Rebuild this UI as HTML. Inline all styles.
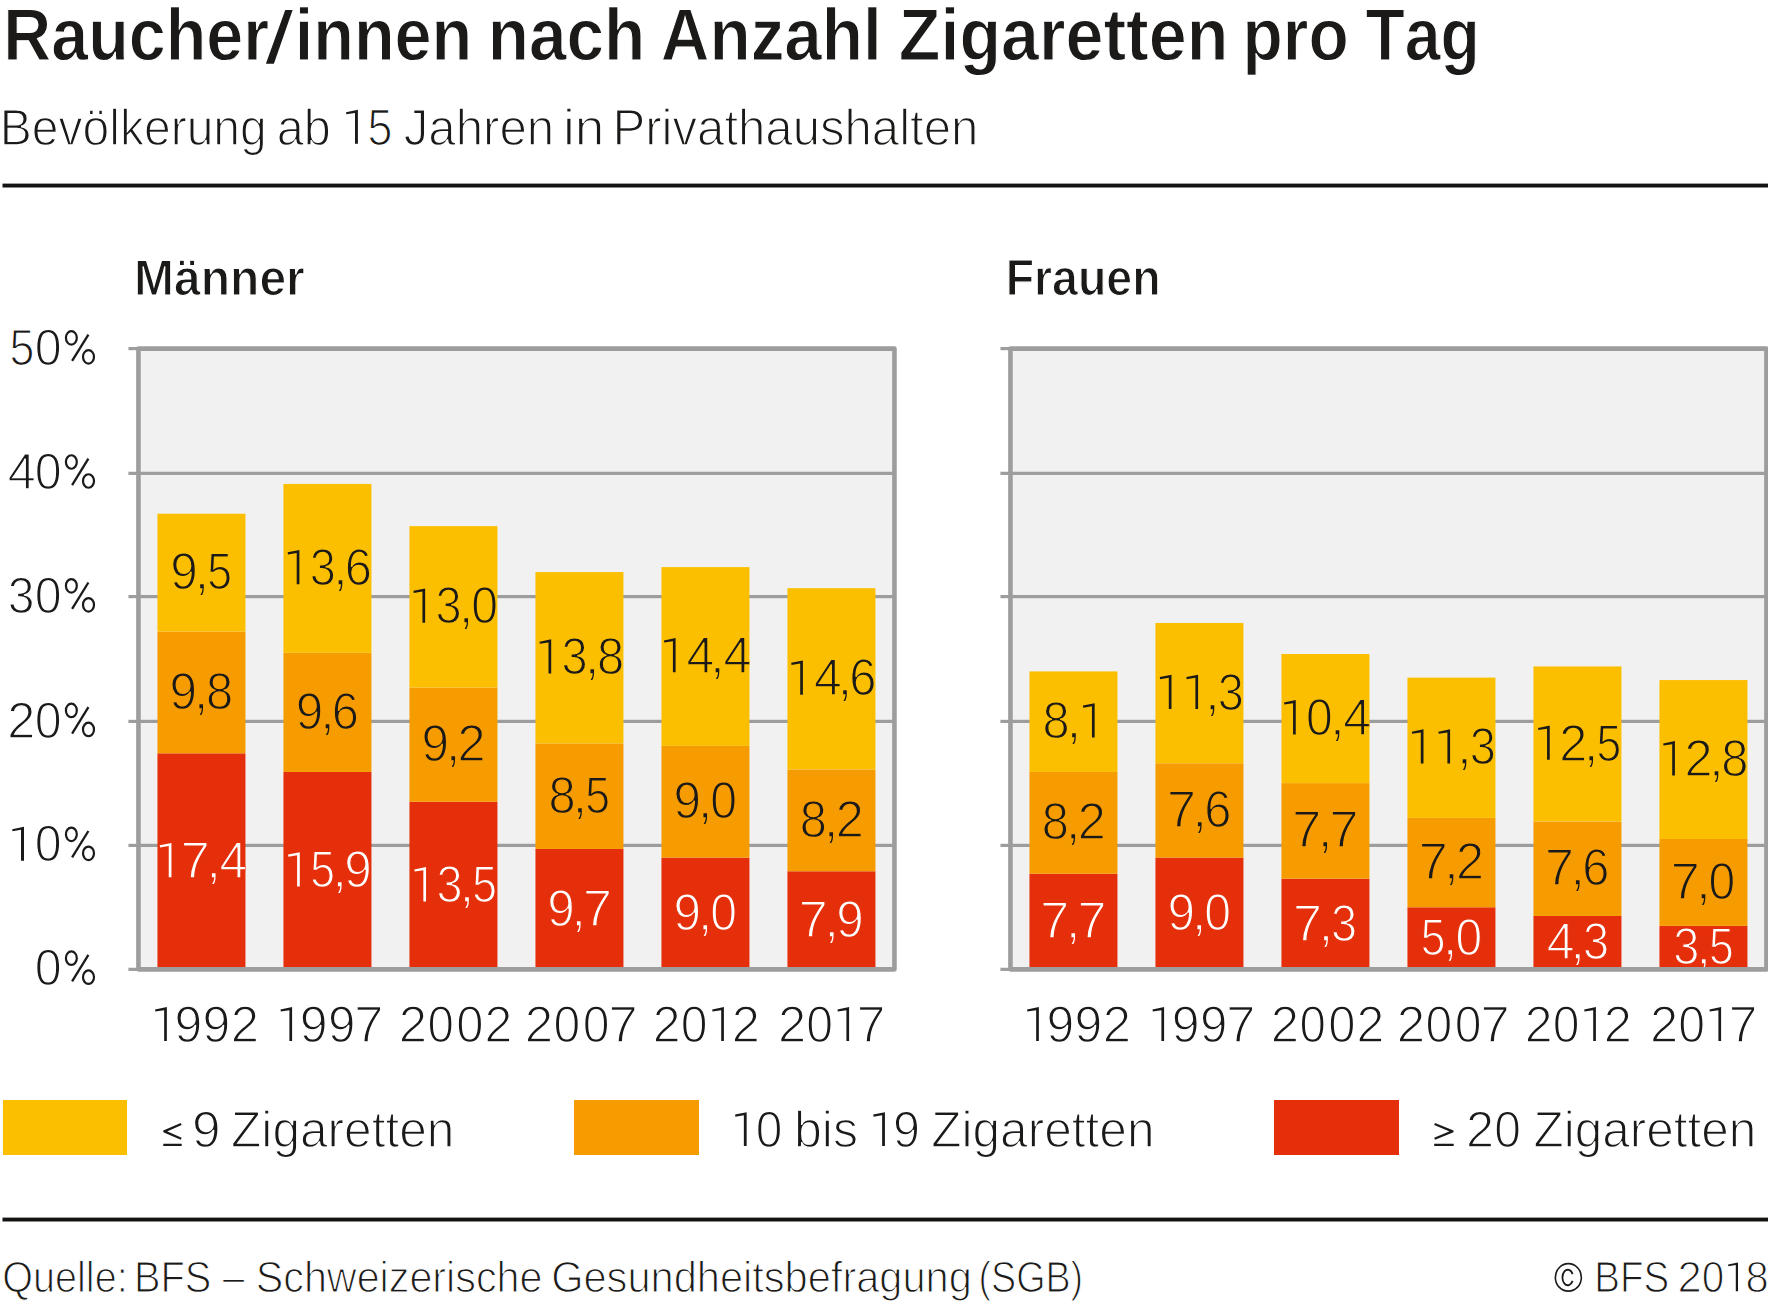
<!DOCTYPE html>
<html><head><meta charset="utf-8"><title>Raucher/innen nach Anzahl Zigaretten pro Tag</title>
<style>
html,body{margin:0;padding:0;background:#fff;}
svg{display:block;}
text{font-family:"Liberation Sans",sans-serif;font-kerning:none;white-space:pre;text-rendering:geometricPrecision;}
</style></head><body>
<svg width="1768" height="1303" viewBox="0 0 1768 1303">
<rect width="1768" height="1303" fill="#fff"/>
<path d="M285.25,10.1 L292.6,10.1 L273.9,63.85 L265.9,63.85 Z" fill="#1b1a18"/>
<text transform="translate(3.32,60.1) scale(0.9010,1)" font-size="73.69" font-weight="bold" fill="#1b1a18" stroke="#fff" stroke-width="1.2">Raucher</text>
<text transform="translate(294.81,60.1) scale(0.9031,1)" font-size="73.69" font-weight="bold" fill="#1b1a18" stroke="#fff" stroke-width="1.2">innen</text>
<text transform="translate(487.81,60.1) scale(0.9147,1)" font-size="73.69" font-weight="bold" fill="#1b1a18" stroke="#fff" stroke-width="1.2">nach</text>
<text transform="translate(660.77,60.1) scale(0.9151,1)" font-size="73.69" font-weight="bold" fill="#1b1a18" stroke="#fff" stroke-width="1.2">Anzahl</text>
<text transform="translate(898.81,60.1) scale(0.9252,1)" font-size="73.69" font-weight="bold" fill="#1b1a18" stroke="#fff" stroke-width="1.2">Zigaretten</text>
<text transform="translate(1242.52,60.1) scale(0.8946,1)" font-size="73.69" font-weight="bold" fill="#1b1a18" stroke="#fff" stroke-width="1.2">pro</text>
<text transform="translate(1365.45,60.1) scale(0.8730,1)" font-size="73.69" font-weight="bold" fill="#1b1a18" stroke="#fff" stroke-width="1.2">Tag</text>
<text transform="translate(-0.2,144.5) scale(0.9413,1)" font-size="51.02" font-weight="normal" fill="#1b1a18" stroke="#fff" stroke-width="1.4">Bevölkerung</text>
<text transform="translate(276.67,144.5) scale(0.9522,1)" font-size="51.02" font-weight="normal" fill="#1b1a18" stroke="#fff" stroke-width="1.4">ab</text>
<text transform="translate(403.66,144.5) scale(0.9649,1)" font-size="51.02" font-weight="normal" fill="#1b1a18" stroke="#fff" stroke-width="1.4">Jahren</text>
<text transform="translate(563.02,144.5) scale(1.0417,1)" font-size="51.02" font-weight="normal" fill="#1b1a18" stroke="#fff" stroke-width="1.4">in</text>
<text transform="translate(612.5,144.5) scale(0.9627,1)" font-size="51.02" font-weight="normal" fill="#1b1a18" stroke="#fff" stroke-width="1.4">Privathaushalten</text>
<path d="M357.9,109.86 L357.9,143.86 L355,143.86 L355,112.93 L346.34,114.32 L346.04,112.24 Z" fill="#1b1a18"/>
<text transform="translate(367.5,144.56) scale(0.8697,1)" font-size="51.45" font-weight="normal" fill="#1b1a18" stroke="#fff" stroke-width="1.4">5</text>
<rect x="2.5" y="183.6" width="1768" height="3.9" fill="#151412"/>
<rect x="138.45" y="348.6" width="756" height="620.75" fill="#f1f1f1"/>
<rect x="128.45" y="967.75" width="766" height="3.2" fill="#9d9d9d"/>
<rect x="128.45" y="843.8" width="766" height="3.2" fill="#9d9d9d"/>
<rect x="128.45" y="719.8" width="766" height="3.2" fill="#9d9d9d"/>
<rect x="128.45" y="595" width="766" height="3.2" fill="#9d9d9d"/>
<rect x="128.45" y="471.75" width="766" height="3.2" fill="#9d9d9d"/>
<rect x="128.45" y="347" width="766" height="3.2" fill="#9d9d9d"/>
<rect x="157.45" y="753.33" width="88" height="216.02" fill="#e52f0b"/>
<rect x="157.45" y="631.66" width="88" height="121.67" fill="#f69c00"/>
<rect x="157.45" y="513.72" width="88" height="117.94" fill="#fcbf00"/>
<rect x="283.45" y="771.95" width="88" height="197.4" fill="#e52f0b"/>
<rect x="283.45" y="652.77" width="88" height="119.18" fill="#f69c00"/>
<rect x="283.45" y="483.92" width="88" height="168.84" fill="#fcbf00"/>
<rect x="409.45" y="801.75" width="88" height="167.6" fill="#e52f0b"/>
<rect x="409.45" y="687.53" width="88" height="114.22" fill="#f69c00"/>
<rect x="409.45" y="526.13" width="88" height="161.4" fill="#fcbf00"/>
<rect x="535.45" y="848.92" width="88" height="120.43" fill="#e52f0b"/>
<rect x="535.45" y="743.4" width="88" height="105.53" fill="#f69c00"/>
<rect x="535.45" y="572.07" width="88" height="171.33" fill="#fcbf00"/>
<rect x="661.45" y="857.62" width="88" height="111.74" fill="#e52f0b"/>
<rect x="661.45" y="745.88" width="88" height="111.73" fill="#f69c00"/>
<rect x="661.45" y="567.1" width="88" height="178.78" fill="#fcbf00"/>
<rect x="787.45" y="871.27" width="88" height="98.08" fill="#e52f0b"/>
<rect x="787.45" y="769.47" width="88" height="101.8" fill="#f69c00"/>
<rect x="787.45" y="588.21" width="88" height="181.26" fill="#fcbf00"/>
<path d="M138.45,969.35 V348.6 H894.45 V969.35 Z" fill="none" stroke="#9d9d9d" stroke-width="4.6" stroke-linejoin="round"/>
<clipPath id="cM0"><rect x="157.45" y="300" width="88" height="667.05"/></clipPath><g clip-path="url(#cM0)">
<path d="M171.45,842.89 L171.45,877.19 L168.75,877.19 L168.75,845.99 L160.05,847.39 L159.75,845.29 Z" fill="#ffffff"/>
<text transform="translate(180.87,877.89) scale(1.0050,1)" font-size="51.89" font-weight="normal" fill="#ffffff" stroke="#e52f0b" stroke-width="1.4">7</text>
<text transform="translate(206.23,877.89) scale(1.0291,1)" font-size="51.89" font-weight="normal" fill="#ffffff" stroke="#e52f0b" stroke-width="1.4">,</text>
<text transform="translate(219.53,877.89) scale(0.9617,1)" font-size="51.89" font-weight="normal" fill="#ffffff" stroke="#e52f0b" stroke-width="1.4">4</text>
<text transform="translate(169.52,709.05) scale(0.9527,1)" font-size="51.89" font-weight="normal" fill="#1b1a18" stroke="#f69c00" stroke-width="1.4">9</text>
<text transform="translate(193.68,709.05) scale(1.0291,1)" font-size="51.89" font-weight="normal" fill="#1b1a18" stroke="#f69c00" stroke-width="1.4">,</text>
<text transform="translate(206.02,709.05) scale(0.9412,1)" font-size="51.89" font-weight="normal" fill="#1b1a18" stroke="#f69c00" stroke-width="1.4">8</text>
<text transform="translate(170.37,589.24) scale(0.9527,1)" font-size="51.89" font-weight="normal" fill="#1b1a18" stroke="#fcbf00" stroke-width="1.4">9</text>
<text transform="translate(194.53,589.24) scale(1.0291,1)" font-size="51.89" font-weight="normal" fill="#1b1a18" stroke="#fcbf00" stroke-width="1.4">,</text>
<text transform="translate(207.27,589.24) scale(0.8577,1)" font-size="51.89" font-weight="normal" fill="#1b1a18" stroke="#fcbf00" stroke-width="1.4">5</text>
</g>
<clipPath id="cM1"><rect x="283.45" y="300" width="88" height="667.05"/></clipPath><g clip-path="url(#cM1)">
<path d="M299.8,852.2 L299.8,886.5 L297.1,886.5 L297.1,855.3 L288.4,856.7 L288.1,854.6 Z" fill="#ffffff"/>
<text transform="translate(310.22,887.2) scale(0.8577,1)" font-size="51.89" font-weight="normal" fill="#ffffff" stroke="#e52f0b" stroke-width="1.4">5</text>
<text transform="translate(332.18,887.2) scale(1.0291,1)" font-size="51.89" font-weight="normal" fill="#ffffff" stroke="#e52f0b" stroke-width="1.4">,</text>
<text transform="translate(344.32,887.2) scale(0.9527,1)" font-size="51.89" font-weight="normal" fill="#ffffff" stroke="#e52f0b" stroke-width="1.4">9</text>
<text transform="translate(295.72,728.91) scale(0.9527,1)" font-size="51.89" font-weight="normal" fill="#1b1a18" stroke="#f69c00" stroke-width="1.4">9</text>
<text transform="translate(319.88,728.91) scale(1.0291,1)" font-size="51.89" font-weight="normal" fill="#1b1a18" stroke="#f69c00" stroke-width="1.4">,</text>
<text transform="translate(331.86,728.91) scale(0.9404,1)" font-size="51.89" font-weight="normal" fill="#1b1a18" stroke="#f69c00" stroke-width="1.4">6</text>
<path d="M299.4,549.9 L299.4,584.2 L296.7,584.2 L296.7,553 L288,554.4 L287.7,552.3 Z" fill="#1b1a18"/>
<text transform="translate(309.78,584.9) scale(0.9051,1)" font-size="51.89" font-weight="normal" fill="#1b1a18" stroke="#fcbf00" stroke-width="1.4">3</text>
<text transform="translate(332.88,584.9) scale(1.0291,1)" font-size="51.89" font-weight="normal" fill="#1b1a18" stroke="#fcbf00" stroke-width="1.4">,</text>
<text transform="translate(344.86,584.9) scale(0.9404,1)" font-size="51.89" font-weight="normal" fill="#1b1a18" stroke="#fcbf00" stroke-width="1.4">6</text>
</g>
<clipPath id="cM2"><rect x="409.45" y="300" width="88" height="667.05"/></clipPath><g clip-path="url(#cM2)">
<path d="M426.05,867.1 L426.05,901.4 L423.35,901.4 L423.35,870.2 L414.65,871.6 L414.35,869.5 Z" fill="#ffffff"/>
<text transform="translate(436.43,902.1) scale(0.9051,1)" font-size="51.89" font-weight="normal" fill="#ffffff" stroke="#e52f0b" stroke-width="1.4">3</text>
<text transform="translate(459.53,902.1) scale(1.0291,1)" font-size="51.89" font-weight="normal" fill="#ffffff" stroke="#e52f0b" stroke-width="1.4">,</text>
<text transform="translate(472.27,902.1) scale(0.8577,1)" font-size="51.89" font-weight="normal" fill="#ffffff" stroke="#e52f0b" stroke-width="1.4">5</text>
<text transform="translate(421.52,761.19) scale(0.9527,1)" font-size="51.89" font-weight="normal" fill="#1b1a18" stroke="#f69c00" stroke-width="1.4">9</text>
<text transform="translate(445.68,761.19) scale(1.0291,1)" font-size="51.89" font-weight="normal" fill="#1b1a18" stroke="#f69c00" stroke-width="1.4">,</text>
<text transform="translate(457.59,761.19) scale(0.9713,1)" font-size="51.89" font-weight="normal" fill="#1b1a18" stroke="#f69c00" stroke-width="1.4">2</text>
<path d="M425.15,588.38 L425.15,622.68 L422.45,622.68 L422.45,591.48 L413.75,592.88 L413.45,590.78 Z" fill="#1b1a18"/>
<text transform="translate(435.53,623.38) scale(0.9051,1)" font-size="51.89" font-weight="normal" fill="#1b1a18" stroke="#fcbf00" stroke-width="1.4">3</text>
<text transform="translate(458.63,623.38) scale(1.0291,1)" font-size="51.89" font-weight="normal" fill="#1b1a18" stroke="#fcbf00" stroke-width="1.4">,</text>
<text transform="translate(471.22,623.38) scale(0.9272,1)" font-size="51.89" font-weight="normal" fill="#1b1a18" stroke="#fcbf00" stroke-width="1.4">0</text>
</g>
<clipPath id="cM3"><rect x="535.45" y="300" width="88" height="667.05"/></clipPath><g clip-path="url(#cM3)">
<text transform="translate(547.17,925.69) scale(0.9527,1)" font-size="51.89" font-weight="normal" fill="#ffffff" stroke="#e52f0b" stroke-width="1.4">9</text>
<text transform="translate(571.33,925.69) scale(1.0291,1)" font-size="51.89" font-weight="normal" fill="#ffffff" stroke="#e52f0b" stroke-width="1.4">,</text>
<text transform="translate(583.07,925.69) scale(1.0050,1)" font-size="51.89" font-weight="normal" fill="#ffffff" stroke="#e52f0b" stroke-width="1.4">7</text>
<text transform="translate(548.52,812.71) scale(0.9412,1)" font-size="51.89" font-weight="normal" fill="#1b1a18" stroke="#f69c00" stroke-width="1.4">8</text>
<text transform="translate(572.58,812.71) scale(1.0291,1)" font-size="51.89" font-weight="normal" fill="#1b1a18" stroke="#f69c00" stroke-width="1.4">,</text>
<text transform="translate(585.32,812.71) scale(0.8577,1)" font-size="51.89" font-weight="normal" fill="#1b1a18" stroke="#f69c00" stroke-width="1.4">5</text>
<path d="M551.2,639.28 L551.2,673.58 L548.5,673.58 L548.5,642.38 L539.8,643.78 L539.5,641.68 Z" fill="#1b1a18"/>
<text transform="translate(561.58,674.28) scale(0.9051,1)" font-size="51.89" font-weight="normal" fill="#1b1a18" stroke="#fcbf00" stroke-width="1.4">3</text>
<text transform="translate(584.68,674.28) scale(1.0291,1)" font-size="51.89" font-weight="normal" fill="#1b1a18" stroke="#fcbf00" stroke-width="1.4">,</text>
<text transform="translate(597.02,674.28) scale(0.9412,1)" font-size="51.89" font-weight="normal" fill="#1b1a18" stroke="#fcbf00" stroke-width="1.4">8</text>
</g>
<clipPath id="cM4"><rect x="661.45" y="300" width="88" height="667.05"/></clipPath><g clip-path="url(#cM4)">
<text transform="translate(673.47,930.03) scale(0.9527,1)" font-size="51.89" font-weight="normal" fill="#ffffff" stroke="#e52f0b" stroke-width="1.4">9</text>
<text transform="translate(697.63,930.03) scale(1.0291,1)" font-size="51.89" font-weight="normal" fill="#ffffff" stroke="#e52f0b" stroke-width="1.4">,</text>
<text transform="translate(710.22,930.03) scale(0.9272,1)" font-size="51.89" font-weight="normal" fill="#ffffff" stroke="#e52f0b" stroke-width="1.4">0</text>
<text transform="translate(673.47,818.3) scale(0.9527,1)" font-size="51.89" font-weight="normal" fill="#1b1a18" stroke="#f69c00" stroke-width="1.4">9</text>
<text transform="translate(697.63,818.3) scale(1.0291,1)" font-size="51.89" font-weight="normal" fill="#1b1a18" stroke="#f69c00" stroke-width="1.4">,</text>
<text transform="translate(710.22,818.3) scale(0.9272,1)" font-size="51.89" font-weight="normal" fill="#1b1a18" stroke="#f69c00" stroke-width="1.4">0</text>
<path d="M675.6,638.04 L675.6,672.34 L672.9,672.34 L672.9,641.14 L664.2,642.54 L663.9,640.44 Z" fill="#1b1a18"/>
<text transform="translate(686.58,673.04) scale(0.9617,1)" font-size="51.89" font-weight="normal" fill="#1b1a18" stroke="#fcbf00" stroke-width="1.4">4</text>
<text transform="translate(710.08,673.04) scale(1.0291,1)" font-size="51.89" font-weight="normal" fill="#1b1a18" stroke="#fcbf00" stroke-width="1.4">,</text>
<text transform="translate(723.38,673.04) scale(0.9617,1)" font-size="51.89" font-weight="normal" fill="#1b1a18" stroke="#fcbf00" stroke-width="1.4">4</text>
</g>
<clipPath id="cM5"><rect x="787.45" y="300" width="88" height="667.05"/></clipPath><g clip-path="url(#cM5)">
<text transform="translate(798.77,936.86) scale(1.0050,1)" font-size="51.89" font-weight="normal" fill="#ffffff" stroke="#e52f0b" stroke-width="1.4">7</text>
<text transform="translate(824.13,936.86) scale(1.0291,1)" font-size="51.89" font-weight="normal" fill="#ffffff" stroke="#e52f0b" stroke-width="1.4">,</text>
<text transform="translate(836.27,936.86) scale(0.9527,1)" font-size="51.89" font-weight="normal" fill="#ffffff" stroke="#e52f0b" stroke-width="1.4">9</text>
<text transform="translate(799.67,836.92) scale(0.9412,1)" font-size="51.89" font-weight="normal" fill="#1b1a18" stroke="#f69c00" stroke-width="1.4">8</text>
<text transform="translate(823.73,836.92) scale(1.0291,1)" font-size="51.89" font-weight="normal" fill="#1b1a18" stroke="#f69c00" stroke-width="1.4">,</text>
<text transform="translate(835.64,836.92) scale(0.9713,1)" font-size="51.89" font-weight="normal" fill="#1b1a18" stroke="#f69c00" stroke-width="1.4">2</text>
<path d="M802.9,660.39 L802.9,694.69 L800.2,694.69 L800.2,663.49 L791.5,664.89 L791.2,662.79 Z" fill="#1b1a18"/>
<text transform="translate(813.88,695.39) scale(0.9617,1)" font-size="51.89" font-weight="normal" fill="#1b1a18" stroke="#fcbf00" stroke-width="1.4">4</text>
<text transform="translate(837.38,695.39) scale(1.0291,1)" font-size="51.89" font-weight="normal" fill="#1b1a18" stroke="#fcbf00" stroke-width="1.4">,</text>
<text transform="translate(849.36,695.39) scale(0.9404,1)" font-size="51.89" font-weight="normal" fill="#1b1a18" stroke="#fcbf00" stroke-width="1.4">6</text>
</g>
<path d="M166.86,1007.1 L166.86,1041.1 L164.16,1041.1 L164.16,1010.17 L155.35,1011.56 L155.05,1009.48 Z" fill="#1b1a18"/>
<text transform="translate(174.58,1041.8) scale(0.9702,1)" font-size="51.45" font-weight="normal" fill="#1b1a18" stroke="#fff" stroke-width="1.4">9</text>
<text transform="translate(202.38,1041.8) scale(0.9702,1)" font-size="51.45" font-weight="normal" fill="#1b1a18" stroke="#fff" stroke-width="1.4">9</text>
<text transform="translate(230.65,1041.8) scale(0.9891,1)" font-size="51.45" font-weight="normal" fill="#1b1a18" stroke="#fff" stroke-width="1.4">2</text>
<path d="M292.1,1007.1 L292.1,1041.1 L289.4,1041.1 L289.4,1010.17 L280.8,1011.56 L280.5,1009.48 Z" fill="#1b1a18"/>
<text transform="translate(299.87,1041.8) scale(0.9724,1)" font-size="51.45" font-weight="normal" fill="#1b1a18" stroke="#fff" stroke-width="1.4">9</text>
<text transform="translate(328.12,1041.8) scale(0.9568,1)" font-size="51.45" font-weight="normal" fill="#1b1a18" stroke="#fff" stroke-width="1.4">9</text>
<text transform="translate(354.2,1041.8) scale(1.0186,1)" font-size="51.45" font-weight="normal" fill="#1b1a18" stroke="#fff" stroke-width="1.4">7</text>
<text transform="translate(398.85,1041.8) scale(0.9891,1)" font-size="51.45" font-weight="normal" fill="#1b1a18" stroke="#fff" stroke-width="1.4">2</text>
<text transform="translate(427.5,1041.8) scale(0.9226,1)" font-size="51.45" font-weight="normal" fill="#1b1a18" stroke="#fff" stroke-width="1.4">0</text>
<text transform="translate(456.22,1041.8) scale(0.9527,1)" font-size="51.45" font-weight="normal" fill="#1b1a18" stroke="#fff" stroke-width="1.4">0</text>
<text transform="translate(484.51,1041.8) scale(0.9709,1)" font-size="51.45" font-weight="normal" fill="#1b1a18" stroke="#fff" stroke-width="1.4">2</text>
<text transform="translate(524.73,1041.8) scale(0.9936,1)" font-size="51.45" font-weight="normal" fill="#1b1a18" stroke="#fff" stroke-width="1.4">2</text>
<text transform="translate(553.46,1041.8) scale(0.9355,1)" font-size="51.45" font-weight="normal" fill="#1b1a18" stroke="#fff" stroke-width="1.4">0</text>
<text transform="translate(582.66,1041.8) scale(0.9355,1)" font-size="51.45" font-weight="normal" fill="#1b1a18" stroke="#fff" stroke-width="1.4">0</text>
<text transform="translate(608.6,1041.8) scale(1.0186,1)" font-size="51.45" font-weight="normal" fill="#1b1a18" stroke="#fff" stroke-width="1.4">7</text>
<text transform="translate(652.71,1041.8) scale(0.9709,1)" font-size="51.45" font-weight="normal" fill="#1b1a18" stroke="#fff" stroke-width="1.4">2</text>
<text transform="translate(680.86,1041.8) scale(0.9355,1)" font-size="51.45" font-weight="normal" fill="#1b1a18" stroke="#fff" stroke-width="1.4">0</text>
<path d="M723.9,1007.1 L723.9,1041.1 L721.2,1041.1 L721.2,1010.17 L712.5,1011.56 L712.2,1009.48 Z" fill="#1b1a18"/>
<text transform="translate(731.76,1041.8) scale(0.9846,1)" font-size="51.45" font-weight="normal" fill="#1b1a18" stroke="#fff" stroke-width="1.4">2</text>
<text transform="translate(777.96,1041.8) scale(0.9846,1)" font-size="51.45" font-weight="normal" fill="#1b1a18" stroke="#fff" stroke-width="1.4">2</text>
<text transform="translate(806.16,1041.8) scale(0.9355,1)" font-size="51.45" font-weight="normal" fill="#1b1a18" stroke="#fff" stroke-width="1.4">0</text>
<path d="M849.1,1007.1 L849.1,1041.1 L846.4,1041.1 L846.4,1010.17 L837.8,1011.56 L837.5,1009.48 Z" fill="#1b1a18"/>
<text transform="translate(856.66,1041.8) scale(1.0004,1)" font-size="51.45" font-weight="normal" fill="#1b1a18" stroke="#fff" stroke-width="1.4">7</text>
<rect x="1010.45" y="348.6" width="756" height="620.75" fill="#f1f1f1"/>
<rect x="1000.45" y="967.75" width="766" height="3.2" fill="#9d9d9d"/>
<rect x="1000.45" y="843.8" width="766" height="3.2" fill="#9d9d9d"/>
<rect x="1000.45" y="719.8" width="766" height="3.2" fill="#9d9d9d"/>
<rect x="1000.45" y="595" width="766" height="3.2" fill="#9d9d9d"/>
<rect x="1000.45" y="471.75" width="766" height="3.2" fill="#9d9d9d"/>
<rect x="1000.45" y="347" width="766" height="3.2" fill="#9d9d9d"/>
<rect x="1029.45" y="873.75" width="88" height="95.6" fill="#e52f0b"/>
<rect x="1029.45" y="771.95" width="88" height="101.8" fill="#f69c00"/>
<rect x="1029.45" y="671.39" width="88" height="100.56" fill="#fcbf00"/>
<rect x="1155.45" y="857.62" width="88" height="111.74" fill="#e52f0b"/>
<rect x="1155.45" y="763.26" width="88" height="94.35" fill="#f69c00"/>
<rect x="1155.45" y="622.97" width="88" height="140.29" fill="#fcbf00"/>
<rect x="1281.45" y="878.72" width="88" height="90.63" fill="#e52f0b"/>
<rect x="1281.45" y="783.12" width="88" height="95.6" fill="#f69c00"/>
<rect x="1281.45" y="654.01" width="88" height="129.12" fill="#fcbf00"/>
<rect x="1407.45" y="907.27" width="88" height="62.08" fill="#e52f0b"/>
<rect x="1407.45" y="817.89" width="88" height="89.39" fill="#f69c00"/>
<rect x="1407.45" y="677.6" width="88" height="140.29" fill="#fcbf00"/>
<rect x="1533.45" y="915.97" width="88" height="53.38" fill="#e52f0b"/>
<rect x="1533.45" y="821.61" width="88" height="94.35" fill="#f69c00"/>
<rect x="1533.45" y="666.42" width="88" height="155.19" fill="#fcbf00"/>
<rect x="1659.45" y="925.9" width="88" height="43.45" fill="#e52f0b"/>
<rect x="1659.45" y="838.99" width="88" height="86.9" fill="#f69c00"/>
<rect x="1659.45" y="680.08" width="88" height="158.91" fill="#fcbf00"/>
<path d="M1010.45,969.35 V348.6 H1766.45 V969.35 Z" fill="none" stroke="#9d9d9d" stroke-width="4.6" stroke-linejoin="round"/>
<clipPath id="cF0"><rect x="1029.45" y="300" width="88" height="667.05"/></clipPath><g clip-path="url(#cF0)">
<text transform="translate(1040.37,938.1) scale(1.0050,1)" font-size="51.89" font-weight="normal" fill="#ffffff" stroke="#e52f0b" stroke-width="1.4">7</text>
<text transform="translate(1065.73,938.1) scale(1.0291,1)" font-size="51.89" font-weight="normal" fill="#ffffff" stroke="#e52f0b" stroke-width="1.4">,</text>
<text transform="translate(1077.47,938.1) scale(1.0050,1)" font-size="51.89" font-weight="normal" fill="#ffffff" stroke="#e52f0b" stroke-width="1.4">7</text>
<text transform="translate(1041.67,839.4) scale(0.9412,1)" font-size="51.89" font-weight="normal" fill="#1b1a18" stroke="#f69c00" stroke-width="1.4">8</text>
<text transform="translate(1065.73,839.4) scale(1.0291,1)" font-size="51.89" font-weight="normal" fill="#1b1a18" stroke="#f69c00" stroke-width="1.4">,</text>
<text transform="translate(1077.64,839.4) scale(0.9713,1)" font-size="51.89" font-weight="normal" fill="#1b1a18" stroke="#f69c00" stroke-width="1.4">2</text>
<text transform="translate(1042.47,738.22) scale(0.9412,1)" font-size="51.89" font-weight="normal" fill="#1b1a18" stroke="#fcbf00" stroke-width="1.4">8</text>
<text transform="translate(1066.53,738.22) scale(1.0291,1)" font-size="51.89" font-weight="normal" fill="#1b1a18" stroke="#fcbf00" stroke-width="1.4">,</text>
<path d="M1094.65,703.22 L1094.65,737.52 L1091.95,737.52 L1091.95,706.32 L1083.25,707.72 L1082.95,705.62 Z" fill="#1b1a18"/>
</g>
<clipPath id="cF1"><rect x="1155.45" y="300" width="88" height="667.05"/></clipPath><g clip-path="url(#cF1)">
<text transform="translate(1167.47,930.03) scale(0.9527,1)" font-size="51.89" font-weight="normal" fill="#ffffff" stroke="#e52f0b" stroke-width="1.4">9</text>
<text transform="translate(1191.63,930.03) scale(1.0291,1)" font-size="51.89" font-weight="normal" fill="#ffffff" stroke="#e52f0b" stroke-width="1.4">,</text>
<text transform="translate(1204.22,930.03) scale(0.9272,1)" font-size="51.89" font-weight="normal" fill="#ffffff" stroke="#e52f0b" stroke-width="1.4">0</text>
<text transform="translate(1166.92,826.99) scale(1.0050,1)" font-size="51.89" font-weight="normal" fill="#1b1a18" stroke="#f69c00" stroke-width="1.4">7</text>
<text transform="translate(1192.28,826.99) scale(1.0291,1)" font-size="51.89" font-weight="normal" fill="#1b1a18" stroke="#f69c00" stroke-width="1.4">,</text>
<text transform="translate(1204.26,826.99) scale(0.9404,1)" font-size="51.89" font-weight="normal" fill="#1b1a18" stroke="#f69c00" stroke-width="1.4">6</text>
<path d="M1171.5,674.67 L1171.5,708.97 L1168.8,708.97 L1168.8,677.77 L1160.1,679.17 L1159.8,677.07 Z" fill="#1b1a18"/>
<path d="M1198.1,674.67 L1198.1,708.97 L1195.4,708.97 L1195.4,677.77 L1186.7,679.17 L1186.4,677.07 Z" fill="#1b1a18"/>
<text transform="translate(1204.98,709.67) scale(1.0291,1)" font-size="51.89" font-weight="normal" fill="#1b1a18" stroke="#fcbf00" stroke-width="1.4">,</text>
<text transform="translate(1217.68,709.67) scale(0.9051,1)" font-size="51.89" font-weight="normal" fill="#1b1a18" stroke="#fcbf00" stroke-width="1.4">3</text>
</g>
<clipPath id="cF2"><rect x="1281.45" y="300" width="88" height="667.05"/></clipPath><g clip-path="url(#cF2)">
<text transform="translate(1293.02,940.59) scale(1.0050,1)" font-size="51.89" font-weight="normal" fill="#ffffff" stroke="#e52f0b" stroke-width="1.4">7</text>
<text transform="translate(1318.38,940.59) scale(1.0291,1)" font-size="51.89" font-weight="normal" fill="#ffffff" stroke="#e52f0b" stroke-width="1.4">,</text>
<text transform="translate(1331.08,940.59) scale(0.9051,1)" font-size="51.89" font-weight="normal" fill="#ffffff" stroke="#e52f0b" stroke-width="1.4">3</text>
<text transform="translate(1292.37,847.47) scale(1.0050,1)" font-size="51.89" font-weight="normal" fill="#1b1a18" stroke="#f69c00" stroke-width="1.4">7</text>
<text transform="translate(1317.73,847.47) scale(1.0291,1)" font-size="51.89" font-weight="normal" fill="#1b1a18" stroke="#f69c00" stroke-width="1.4">,</text>
<text transform="translate(1329.47,847.47) scale(1.0050,1)" font-size="51.89" font-weight="normal" fill="#1b1a18" stroke="#f69c00" stroke-width="1.4">7</text>
<path d="M1295.75,700.12 L1295.75,734.42 L1293.05,734.42 L1293.05,703.22 L1284.35,704.62 L1284.05,702.52 Z" fill="#1b1a18"/>
<text transform="translate(1306.02,735.12) scale(0.9272,1)" font-size="51.89" font-weight="normal" fill="#1b1a18" stroke="#fcbf00" stroke-width="1.4">0</text>
<text transform="translate(1329.93,735.12) scale(1.0291,1)" font-size="51.89" font-weight="normal" fill="#1b1a18" stroke="#fcbf00" stroke-width="1.4">,</text>
<text transform="translate(1343.23,735.12) scale(0.9617,1)" font-size="51.89" font-weight="normal" fill="#1b1a18" stroke="#fcbf00" stroke-width="1.4">4</text>
</g>
<clipPath id="cF3"><rect x="1407.45" y="300" width="88" height="667.05"/></clipPath><g clip-path="url(#cF3)">
<text transform="translate(1420.87,954.86) scale(0.8577,1)" font-size="51.89" font-weight="normal" fill="#ffffff" stroke="#e52f0b" stroke-width="1.4">5</text>
<text transform="translate(1442.83,954.86) scale(1.0291,1)" font-size="51.89" font-weight="normal" fill="#ffffff" stroke="#e52f0b" stroke-width="1.4">,</text>
<text transform="translate(1455.42,954.86) scale(0.9272,1)" font-size="51.89" font-weight="normal" fill="#ffffff" stroke="#e52f0b" stroke-width="1.4">0</text>
<text transform="translate(1418.72,879.13) scale(1.0050,1)" font-size="51.89" font-weight="normal" fill="#1b1a18" stroke="#f69c00" stroke-width="1.4">7</text>
<text transform="translate(1444.08,879.13) scale(1.0291,1)" font-size="51.89" font-weight="normal" fill="#1b1a18" stroke="#f69c00" stroke-width="1.4">,</text>
<text transform="translate(1455.99,879.13) scale(0.9713,1)" font-size="51.89" font-weight="normal" fill="#1b1a18" stroke="#f69c00" stroke-width="1.4">2</text>
<path d="M1423.5,729.29 L1423.5,763.59 L1420.8,763.59 L1420.8,732.39 L1412.1,733.79 L1411.8,731.69 Z" fill="#1b1a18"/>
<path d="M1450.1,729.29 L1450.1,763.59 L1447.4,763.59 L1447.4,732.39 L1438.7,733.79 L1438.4,731.69 Z" fill="#1b1a18"/>
<text transform="translate(1456.98,764.29) scale(1.0291,1)" font-size="51.89" font-weight="normal" fill="#1b1a18" stroke="#fcbf00" stroke-width="1.4">,</text>
<text transform="translate(1469.68,764.29) scale(0.9051,1)" font-size="51.89" font-weight="normal" fill="#1b1a18" stroke="#fcbf00" stroke-width="1.4">3</text>
</g>
<clipPath id="cF4"><rect x="1533.45" y="300" width="88" height="667.05"/></clipPath><g clip-path="url(#cF4)">
<text transform="translate(1546.73,959.21) scale(0.9617,1)" font-size="51.89" font-weight="normal" fill="#ffffff" stroke="#e52f0b" stroke-width="1.4">4</text>
<text transform="translate(1570.23,959.21) scale(1.0291,1)" font-size="51.89" font-weight="normal" fill="#ffffff" stroke="#e52f0b" stroke-width="1.4">,</text>
<text transform="translate(1582.93,959.21) scale(0.9051,1)" font-size="51.89" font-weight="normal" fill="#ffffff" stroke="#e52f0b" stroke-width="1.4">3</text>
<text transform="translate(1544.92,885.34) scale(1.0050,1)" font-size="51.89" font-weight="normal" fill="#1b1a18" stroke="#f69c00" stroke-width="1.4">7</text>
<text transform="translate(1570.28,885.34) scale(1.0291,1)" font-size="51.89" font-weight="normal" fill="#1b1a18" stroke="#f69c00" stroke-width="1.4">,</text>
<text transform="translate(1582.26,885.34) scale(0.9404,1)" font-size="51.89" font-weight="normal" fill="#1b1a18" stroke="#f69c00" stroke-width="1.4">6</text>
<path d="M1549.75,725.57 L1549.75,759.87 L1547.05,759.87 L1547.05,728.67 L1538.35,730.07 L1538.05,727.97 Z" fill="#1b1a18"/>
<text transform="translate(1559.34,760.57) scale(0.9713,1)" font-size="51.89" font-weight="normal" fill="#1b1a18" stroke="#fcbf00" stroke-width="1.4">2</text>
<text transform="translate(1583.83,760.57) scale(1.0291,1)" font-size="51.89" font-weight="normal" fill="#1b1a18" stroke="#fcbf00" stroke-width="1.4">,</text>
<text transform="translate(1596.57,760.57) scale(0.8577,1)" font-size="51.89" font-weight="normal" fill="#1b1a18" stroke="#fcbf00" stroke-width="1.4">5</text>
</g>
<clipPath id="cF5"><rect x="1659.45" y="300" width="88" height="667.05"/></clipPath><g clip-path="url(#cF5)">
<text transform="translate(1673.18,964.17) scale(0.9051,1)" font-size="51.89" font-weight="normal" fill="#ffffff" stroke="#e52f0b" stroke-width="1.4">3</text>
<text transform="translate(1696.28,964.17) scale(1.0291,1)" font-size="51.89" font-weight="normal" fill="#ffffff" stroke="#e52f0b" stroke-width="1.4">,</text>
<text transform="translate(1709.02,964.17) scale(0.8577,1)" font-size="51.89" font-weight="normal" fill="#ffffff" stroke="#e52f0b" stroke-width="1.4">5</text>
<text transform="translate(1670.67,899) scale(1.0050,1)" font-size="51.89" font-weight="normal" fill="#1b1a18" stroke="#f69c00" stroke-width="1.4">7</text>
<text transform="translate(1696.03,899) scale(1.0291,1)" font-size="51.89" font-weight="normal" fill="#1b1a18" stroke="#f69c00" stroke-width="1.4">,</text>
<text transform="translate(1708.62,899) scale(0.9272,1)" font-size="51.89" font-weight="normal" fill="#1b1a18" stroke="#f69c00" stroke-width="1.4">0</text>
<path d="M1674.9,741.09 L1674.9,775.39 L1672.2,775.39 L1672.2,744.19 L1663.5,745.59 L1663.2,743.49 Z" fill="#1b1a18"/>
<text transform="translate(1684.49,776.09) scale(0.9713,1)" font-size="51.89" font-weight="normal" fill="#1b1a18" stroke="#fcbf00" stroke-width="1.4">2</text>
<text transform="translate(1708.98,776.09) scale(1.0291,1)" font-size="51.89" font-weight="normal" fill="#1b1a18" stroke="#fcbf00" stroke-width="1.4">,</text>
<text transform="translate(1721.32,776.09) scale(0.9412,1)" font-size="51.89" font-weight="normal" fill="#1b1a18" stroke="#fcbf00" stroke-width="1.4">8</text>
</g>
<path d="M1038.86,1007.1 L1038.86,1041.1 L1036.16,1041.1 L1036.16,1010.17 L1027.35,1011.56 L1027.05,1009.48 Z" fill="#1b1a18"/>
<text transform="translate(1046.58,1041.8) scale(0.9702,1)" font-size="51.45" font-weight="normal" fill="#1b1a18" stroke="#fff" stroke-width="1.4">9</text>
<text transform="translate(1074.38,1041.8) scale(0.9702,1)" font-size="51.45" font-weight="normal" fill="#1b1a18" stroke="#fff" stroke-width="1.4">9</text>
<text transform="translate(1102.65,1041.8) scale(0.9891,1)" font-size="51.45" font-weight="normal" fill="#1b1a18" stroke="#fff" stroke-width="1.4">2</text>
<path d="M1164.1,1007.1 L1164.1,1041.1 L1161.4,1041.1 L1161.4,1010.17 L1152.8,1011.56 L1152.5,1009.48 Z" fill="#1b1a18"/>
<text transform="translate(1171.87,1041.8) scale(0.9724,1)" font-size="51.45" font-weight="normal" fill="#1b1a18" stroke="#fff" stroke-width="1.4">9</text>
<text transform="translate(1200.12,1041.8) scale(0.9568,1)" font-size="51.45" font-weight="normal" fill="#1b1a18" stroke="#fff" stroke-width="1.4">9</text>
<text transform="translate(1226.2,1041.8) scale(1.0186,1)" font-size="51.45" font-weight="normal" fill="#1b1a18" stroke="#fff" stroke-width="1.4">7</text>
<text transform="translate(1270.85,1041.8) scale(0.9891,1)" font-size="51.45" font-weight="normal" fill="#1b1a18" stroke="#fff" stroke-width="1.4">2</text>
<text transform="translate(1299.5,1041.8) scale(0.9226,1)" font-size="51.45" font-weight="normal" fill="#1b1a18" stroke="#fff" stroke-width="1.4">0</text>
<text transform="translate(1328.22,1041.8) scale(0.9527,1)" font-size="51.45" font-weight="normal" fill="#1b1a18" stroke="#fff" stroke-width="1.4">0</text>
<text transform="translate(1356.51,1041.8) scale(0.9709,1)" font-size="51.45" font-weight="normal" fill="#1b1a18" stroke="#fff" stroke-width="1.4">2</text>
<text transform="translate(1396.73,1041.8) scale(0.9936,1)" font-size="51.45" font-weight="normal" fill="#1b1a18" stroke="#fff" stroke-width="1.4">2</text>
<text transform="translate(1425.46,1041.8) scale(0.9355,1)" font-size="51.45" font-weight="normal" fill="#1b1a18" stroke="#fff" stroke-width="1.4">0</text>
<text transform="translate(1454.66,1041.8) scale(0.9355,1)" font-size="51.45" font-weight="normal" fill="#1b1a18" stroke="#fff" stroke-width="1.4">0</text>
<text transform="translate(1480.6,1041.8) scale(1.0186,1)" font-size="51.45" font-weight="normal" fill="#1b1a18" stroke="#fff" stroke-width="1.4">7</text>
<text transform="translate(1524.71,1041.8) scale(0.9709,1)" font-size="51.45" font-weight="normal" fill="#1b1a18" stroke="#fff" stroke-width="1.4">2</text>
<text transform="translate(1552.86,1041.8) scale(0.9355,1)" font-size="51.45" font-weight="normal" fill="#1b1a18" stroke="#fff" stroke-width="1.4">0</text>
<path d="M1595.9,1007.1 L1595.9,1041.1 L1593.2,1041.1 L1593.2,1010.17 L1584.5,1011.56 L1584.2,1009.48 Z" fill="#1b1a18"/>
<text transform="translate(1603.76,1041.8) scale(0.9846,1)" font-size="51.45" font-weight="normal" fill="#1b1a18" stroke="#fff" stroke-width="1.4">2</text>
<text transform="translate(1649.96,1041.8) scale(0.9846,1)" font-size="51.45" font-weight="normal" fill="#1b1a18" stroke="#fff" stroke-width="1.4">2</text>
<text transform="translate(1678.16,1041.8) scale(0.9355,1)" font-size="51.45" font-weight="normal" fill="#1b1a18" stroke="#fff" stroke-width="1.4">0</text>
<path d="M1721.1,1007.1 L1721.1,1041.1 L1718.4,1041.1 L1718.4,1010.17 L1709.8,1011.56 L1709.5,1009.48 Z" fill="#1b1a18"/>
<text transform="translate(1728.66,1041.8) scale(1.0004,1)" font-size="51.45" font-weight="normal" fill="#1b1a18" stroke="#fff" stroke-width="1.4">7</text>
<text transform="translate(134.12,295.4) scale(0.9544,1)" font-size="50.29" font-weight="bold" fill="#1b1a18" stroke="#fff" stroke-width="1.2">Männer</text>
<text transform="translate(1005.64,295.4) scale(0.9138,1)" font-size="50.87" font-weight="bold" fill="#1b1a18" stroke="#fff" stroke-width="1.2">Frauen</text>
<text transform="translate(34.75,985.3) scale(0.9426,1)" font-size="51.31" font-weight="normal" fill="#1b1a18" stroke="#fff" stroke-width="1.4">0</text>
<g fill="none" stroke="#1b1a18" stroke-width="2.2"><ellipse cx="71.36" cy="958.2" rx="5.45" ry="6.75"/><ellipse cx="88.5" cy="977.21" rx="5.5" ry="6.75"/><path d="M72.1,981.32 L88.4,954.89" stroke-width="2.3"/></g>
<path d="M24,826.8 L24,860.7 L21,860.7 L21,829.86 L12.5,831.25 L12.2,829.17 Z" fill="#1b1a18"/>
<text transform="translate(34.75,861.4) scale(0.9426,1)" font-size="51.31" font-weight="normal" fill="#1b1a18" stroke="#fff" stroke-width="1.4">0</text>
<g fill="none" stroke="#1b1a18" stroke-width="2.2"><ellipse cx="71.36" cy="834.3" rx="5.45" ry="6.75"/><ellipse cx="88.5" cy="853.31" rx="5.5" ry="6.75"/><path d="M72.1,857.42 L88.4,830.99" stroke-width="2.3"/></g>
<text transform="translate(7.18,737.55) scale(0.9830,1)" font-size="51.31" font-weight="normal" fill="#1b1a18" stroke="#fff" stroke-width="1.4">2</text>
<text transform="translate(34.75,737.55) scale(0.9426,1)" font-size="51.31" font-weight="normal" fill="#1b1a18" stroke="#fff" stroke-width="1.4">0</text>
<g fill="none" stroke="#1b1a18" stroke-width="2.2"><ellipse cx="71.36" cy="710.45" rx="5.45" ry="6.75"/><ellipse cx="88.5" cy="729.46" rx="5.5" ry="6.75"/><path d="M72.1,733.57 L88.4,707.14" stroke-width="2.3"/></g>
<text transform="translate(7.81,612.9) scale(0.9378,1)" font-size="51.31" font-weight="normal" fill="#1b1a18" stroke="#fff" stroke-width="1.4">3</text>
<text transform="translate(34.75,612.9) scale(0.9426,1)" font-size="51.31" font-weight="normal" fill="#1b1a18" stroke="#fff" stroke-width="1.4">0</text>
<g fill="none" stroke="#1b1a18" stroke-width="2.2"><ellipse cx="71.36" cy="585.8" rx="5.45" ry="6.75"/><ellipse cx="88.5" cy="604.81" rx="5.5" ry="6.75"/><path d="M72.1,608.92 L88.4,582.49" stroke-width="2.3"/></g>
<text transform="translate(7.66,489.1) scale(0.9814,1)" font-size="51.31" font-weight="normal" fill="#1b1a18" stroke="#fff" stroke-width="1.4">4</text>
<text transform="translate(34.75,489.1) scale(0.9426,1)" font-size="51.31" font-weight="normal" fill="#1b1a18" stroke="#fff" stroke-width="1.4">0</text>
<g fill="none" stroke="#1b1a18" stroke-width="2.2"><ellipse cx="71.36" cy="462" rx="5.45" ry="6.75"/><ellipse cx="88.5" cy="481.01" rx="5.5" ry="6.75"/><path d="M72.1,485.12 L88.4,458.69" stroke-width="2.3"/></g>
<text transform="translate(9.6,364.95) scale(0.8724,1)" font-size="51.31" font-weight="normal" fill="#1b1a18" stroke="#fff" stroke-width="1.4">5</text>
<text transform="translate(34.75,364.95) scale(0.9426,1)" font-size="51.31" font-weight="normal" fill="#1b1a18" stroke="#fff" stroke-width="1.4">0</text>
<g fill="none" stroke="#1b1a18" stroke-width="2.2"><ellipse cx="71.36" cy="337.85" rx="5.45" ry="6.75"/><ellipse cx="88.5" cy="356.86" rx="5.5" ry="6.75"/><path d="M72.1,360.97 L88.4,334.54" stroke-width="2.3"/></g>
<rect x="3" y="1100" width="124" height="55" fill="#fcbf00"/>
<rect x="574" y="1100" width="125" height="55" fill="#f69c00"/>
<rect x="1274" y="1100" width="125" height="55" fill="#e52f0b"/>
<path d="M181.2,1124.0 L164.3,1131.4 L181.2,1138.8 M163.3,1144.8 H181.7" fill="none" stroke="#1b1a18" stroke-width="2.3" stroke-linejoin="round"/>
<text transform="translate(192.09,1146.7) scale(1.0030,1)" font-size="51.16" font-weight="normal" fill="#1b1a18" stroke="#fff" stroke-width="1.4">9</text>
<text transform="translate(231.05,1146.7) scale(0.9700,1)" font-size="51.16" font-weight="normal" fill="#1b1a18" stroke="#fff" stroke-width="1.4">Zigaretten</text>
<path d="M746.65,1112.2 L746.65,1146 L743.85,1146 L743.85,1115.25 L735.38,1116.63 L735.08,1114.57 Z" fill="#1b1a18"/>
<text transform="translate(755.87,1146.7) scale(0.9368,1)" font-size="51.16" font-weight="normal" fill="#1b1a18" stroke="#fff" stroke-width="1.4">0</text>
<text transform="translate(793.98,1146.7) scale(0.9804,1)" font-size="51.16" font-weight="normal" fill="#1b1a18" stroke="#fff" stroke-width="1.4">bis</text>
<path d="M884.93,1112.2 L884.93,1146 L882.13,1146 L882.13,1115.25 L873.55,1116.63 L873.25,1114.57 Z" fill="#1b1a18"/>
<text transform="translate(892.97,1146.7) scale(0.9468,1)" font-size="51.16" font-weight="normal" fill="#1b1a18" stroke="#fff" stroke-width="1.4">9</text>
<text transform="translate(931.25,1146.7) scale(0.9691,1)" font-size="51.16" font-weight="normal" fill="#1b1a18" stroke="#fff" stroke-width="1.4">Zigaretten</text>
<path d="M1434.6,1124.0 L1452.5,1131.4 L1434.6,1138.8 M1434.2,1144.8 H1453.7" fill="none" stroke="#1b1a18" stroke-width="2.3" stroke-linejoin="round"/>
<text transform="translate(1465.97,1146.7) scale(0.9859,1)" font-size="51.16" font-weight="normal" fill="#1b1a18" stroke="#fff" stroke-width="1.4">2</text>
<text transform="translate(1494.27,1146.7) scale(0.9368,1)" font-size="51.16" font-weight="normal" fill="#1b1a18" stroke="#fff" stroke-width="1.4">0</text>
<text transform="translate(1533.45,1146.7) scale(0.9669,1)" font-size="51.16" font-weight="normal" fill="#1b1a18" stroke="#fff" stroke-width="1.4">Zigaretten</text>
<rect x="2.5" y="1217.6" width="1768" height="3.9" fill="#151412"/>
<text transform="translate(2.34,1291.89) scale(0.9073,1)" font-size="43.59" font-weight="normal" fill="#1b1a18" stroke="#fff" stroke-width="1.19">Quelle:</text>
<text transform="translate(133.99,1291.89) scale(0.9127,1)" font-size="43.59" font-weight="normal" fill="#1b1a18" stroke="#fff" stroke-width="1.19">BFS</text>
<text transform="translate(222.77,1291.89) scale(0.8944,1)" font-size="43.59" font-weight="normal" fill="#1b1a18" stroke="#fff" stroke-width="1.19">–</text>
<text transform="translate(255.76,1291.89) scale(0.9468,1)" font-size="43.59" font-weight="normal" fill="#1b1a18" stroke="#fff" stroke-width="1.19">Schweizerische</text>
<text transform="translate(551.14,1291.89) scale(0.9541,1)" font-size="43.59" font-weight="normal" fill="#1b1a18" stroke="#fff" stroke-width="1.19">Gesundheitsbefragung</text>
<text transform="translate(978.55,1291.89) scale(0.8638,1)" font-size="43.59" font-weight="normal" fill="#1b1a18" stroke="#fff" stroke-width="1.19">(SGB)</text>
<g fill="none" stroke="#1b1a18"><ellipse cx="1568.35" cy="1277.4" rx="13.0" ry="13.75" stroke-width="1.6"/><path d="M1572.6,1274.1 A5.35 7.75 0 1 0 1572.6,1280.9" stroke-width="1.8"/></g>
<text transform="translate(1594.31,1291.89) scale(0.8845,1)" font-size="43.59" font-weight="normal" fill="#1b1a18" stroke="#fff" stroke-width="1.19">BFS</text>
<text transform="translate(1677.47,1291.89) scale(1.0001,1)" font-size="43.59" font-weight="normal" fill="#1b1a18" stroke="#fff" stroke-width="1.19">2</text>
<text transform="translate(1701.77,1291.89) scale(0.9263,1)" font-size="43.59" font-weight="normal" fill="#1b1a18" stroke="#fff" stroke-width="1.19">0</text>
<path d="M1738,1262.5 L1738,1291.3 L1735.8,1291.3 L1735.8,1265.1 L1728.35,1266.28 L1728.1,1264.52 Z" fill="#1b1a18"/>
<text transform="translate(1745.52,1291.89) scale(0.9551,1)" font-size="43.59" font-weight="normal" fill="#1b1a18" stroke="#fff" stroke-width="1.19">8</text>
</svg>
</body></html>
